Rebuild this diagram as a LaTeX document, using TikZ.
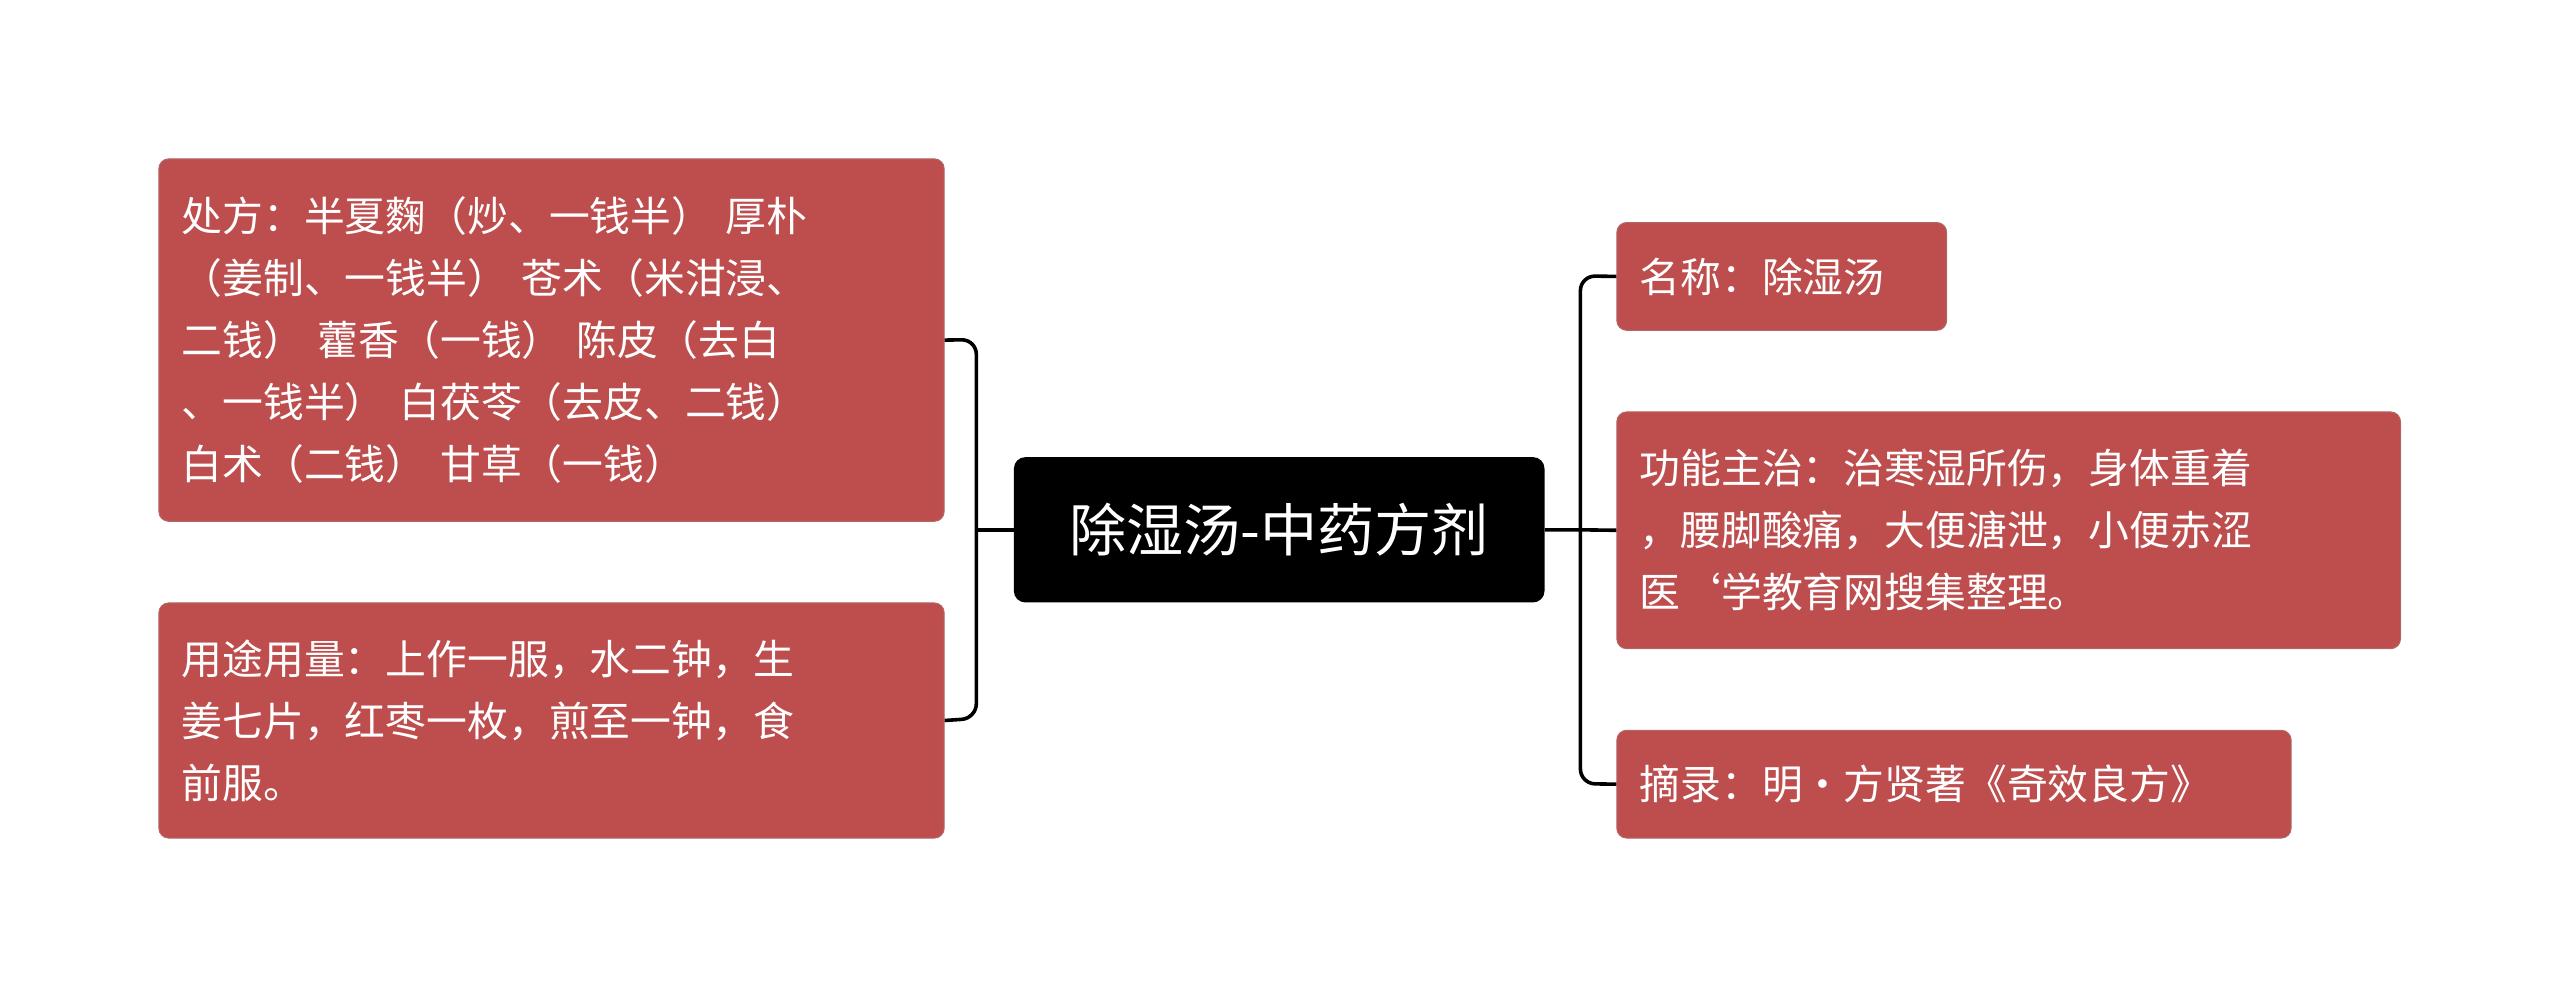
\documentclass[tikz,border=0pt]{standalone}
\usepackage{fontspec}
\setmainfont{Noto Sans CJK SC}
\begin{document}
\begin{tikzpicture}[x=1pt,y=-1pt,
  leaf/.style={draw=red!50!black!60,line width=0.6pt,fill=leafred,rounded corners=6pt,text=white,
    anchor=north west,align=left,inner xsep=14pt,inner ysep=0pt,
    font=\fontsize{25}{38}\selectfont},
  conn/.style={line width=2.2pt,rounded corners=9pt}]
\definecolor{leafred}{HTML}{BE4E4E}
\useasboundingbox (0,0) rectangle (1568,611);
\node[fill=black,rounded corners=7pt,text=white,minimum width=325pt,minimum height=89pt,
  font=\fontsize{35}{40}\selectfont,inner sep=0pt] (c) at (783.5,324.5) {除湿汤-中药方剂};
\node[leaf,minimum width=481pt,minimum height=222pt,text width=453pt] (l1) at (97,97)
 {处方：半夏麴（炒、一钱半） 厚朴\\（姜制、一钱半） 苍术（米泔浸、\\二钱） 藿香（一钱） 陈皮（去白\\、一钱半） 白茯苓（去皮、二钱）\\ 白术（二钱） 甘草（一钱）};
\node[leaf,minimum width=481pt,minimum height=144pt,text width=453pt] (l2) at (97,369)
 {用途用量：上作一服，水二钟，生\\姜七片，红枣一枚，煎至一钟，食\\前服。};
\node[leaf,minimum width=202pt,minimum height=66pt,text width=174pt] (r1) at (990,136)
 {名称：除湿汤};
\node[leaf,minimum width=480pt,minimum height=145pt,text width=452pt] (r2) at (990,252)
 {功能主治：治寒湿所伤，身体重着\\，腰脚酸痛，大便溏泄，小便赤涩\\医`学教育网搜集整理。};
\node[leaf,minimum width=413pt,minimum height=66pt,text width=385pt] (r3) at (990,447)
 {摘录：明·方贤著《奇效良方》};
\draw[conn] (c.west) -- (598,324.5);
\draw[conn] (l1.east) -- (598,208) -- (598,440) -- (l2.east);
\draw[conn] (c.east) -- (968,324.5) -- (r2.west);
\draw[conn] (r1.west) -- (968,169) -- (968,480) -- (r3.west);
\end{tikzpicture}
\end{document}
